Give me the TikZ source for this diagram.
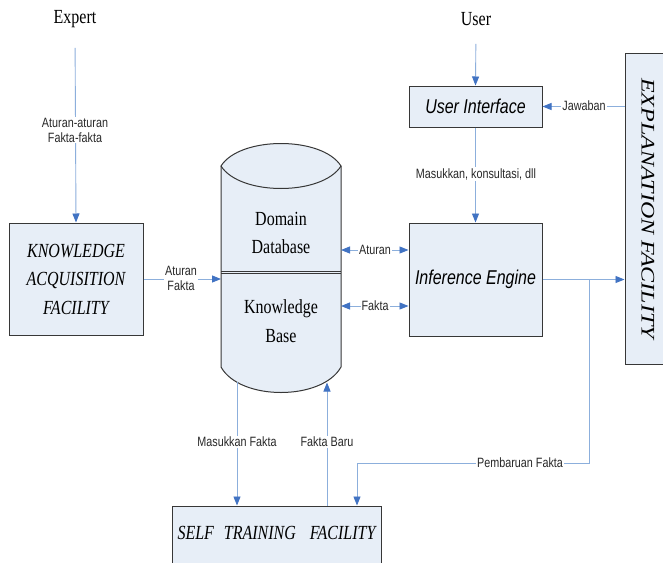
\documentclass[tikz,border=0pt]{standalone}
\usepackage{fontspec}
\setmainfont{Liberation Serif}[FakeStretch=0.8]
\newfontfamily\lblfont{Liberation Sans}[FakeStretch=0.8]
\newfontfamily\upfont{Liberation Serif}
\usetikzlibrary{arrows.meta}
\definecolor{boxfill}{RGB}{231,238,247}
\definecolor{boxline}{RGB}{55,55,55}
\definecolor{wire}{RGB}{140,175,220}
\definecolor{tipblue}{RGB}{65,115,195}
\definecolor{lbltext}{RGB}{40,40,40}
\begin{document}
\begin{tikzpicture}[x=1pt,y=-1pt,
  blk/.style={draw=boxline, line width=1pt, fill=boxfill, inner sep=0pt},
  serif/.style={font=\fontsize{20}{28.5}\selectfont, align=center, inner sep=0pt},
  serifit/.style={font=\itshape\fontsize{20}{28.5}\selectfont, align=center, inner sep=0pt},
  sansit/.style={font=\lblfont\itshape\fontsize{20}{24}\selectfont, inner sep=0pt},
  lbl/.style={fill=white, inner sep=1pt, text=lbltext, align=center,
    font=\lblfont\fontsize{13.5}{15}\selectfont},
  wireline/.style={draw=wire, line width=0.9pt},
  conn/.style={wireline, -{Triangle[length=9pt,width=7pt,color=tipblue]}},
  dconn/.style={wireline, {Triangle[length=9pt,width=7pt,color=tipblue]}-{Triangle[length=9pt,width=7pt,color=tipblue]}}
]
\path[use as bounding box] (0,0) rectangle (663,562);
\clip (0,0) rectangle (663,562);
\fill[white] (0,0) rectangle (663,562);

% actors
\node[serif] (expert) at (75,19) {Expert};
\node[serif] (user) at (476,19) {User};

% boxes
\node[blk, minimum width=134pt, minimum height=112pt] (kaf) at (76,279) {};
\node[serifit] at (kaf.center) {KNOWLEDGE\\ACQUISITION\\FACILITY};
\node[blk, minimum width=133pt, minimum height=41pt] (ui) at (475.5,106.5) {};
\node[sansit] at (ui.center) {User Interface};
\node[blk, minimum width=133pt, minimum height=113pt] (ie) at (475.5,279.5) {};
\node[sansit] at (ie.center) {Inference Engine};
\node[blk, minimum width=48pt, minimum height=311pt] (ef) at (649,208.5) {};
\node[rotate=-90, inner sep=0pt, font=\upfont\itshape\fontsize{24}{24}\selectfont]
  (eftext) at (648,208.5) {\scalebox{1}[0.8]{EXPLANATION FACILITY}};
\node[blk, minimum width=209pt, minimum height=64pt] (stf) at (276.5,538) {};
\node[serifit] at (276.5,533) {SELF\hspace{10pt}TRAINING\hspace{14pt}FACILITY};

% database cylinder
\path[blk] (221,166) .. controls (240,136) and (322,136) .. (341,166)
  -- (341,367) .. controls (322,401) and (240,401) .. (221,367) -- cycle;
\draw[boxline, line width=1pt] (221,166) .. controls (240,196) and (322,196) .. (341,166);
\draw[boxline, line width=1pt] (221,271) -- (341,271);
\draw[boxline, line width=1pt] (221,273.8) -- (341,273.8);
\node[serif] (dd) at (281,233) {Domain\\Database};
\node[serif] (kb) at (281,321) {Knowledge\\Base};
\coordinate (dbA) at (341,250);
\coordinate (dbF) at (341,306);
\coordinate (dbK) at (221,279);
\coordinate (dbM) at (237,382);
\coordinate (dbB) at (327,382.5);

% connectors
\draw[conn, shorten <=20pt] (expert.south) -- (kaf.north);
\node[lbl] (l1) at (75,130) {Aturan-aturan\\Fakta-fakta};

\draw[conn, shorten <=18pt] (user.south) -- (ui.north);

\draw[conn] (ef.west |- ui.east) -- (ui.east);
\node[lbl] (l2) at (584,106) {Jawaban};

\draw[conn] (ui.south) -- (ie.north);
\node[lbl] (l3) at (476,174) {Masukkan, konsultasi, dll};

\draw[dconn] (dbA) -- (ie.west |- dbA);
\node[lbl] (l4) at (375,250) {Aturan};
\draw[dconn] (dbF) -- (ie.west |- dbF);
\node[lbl] (l5) at (375,306) {Fakta};

\draw[conn] (kaf.east) -- (dbK);
\node[lbl] (l6) at (181,278) {Aturan\\Fakta};

\draw[conn] (ie.east) -- (ef.west |- ie.east);
\coordinate (br) at (589,279.5);
\coordinate (pb) at (357,463);
\draw[wireline] (br) |- (pb);
\draw[conn] (pb) -- (pb |- stf.north);
\node[lbl] (l7) at (520,463) {Pembaruan Fakta};

\draw[conn] (dbM) -- (dbM |- stf.north);
\node[lbl] (l8) at (237,442) {Masukkan Fakta};
\draw[conn] (dbB |- stf.north) -- (dbB);
\node[lbl] (l9) at (327,442) {Fakta Baru};
\end{tikzpicture}
\end{document}
